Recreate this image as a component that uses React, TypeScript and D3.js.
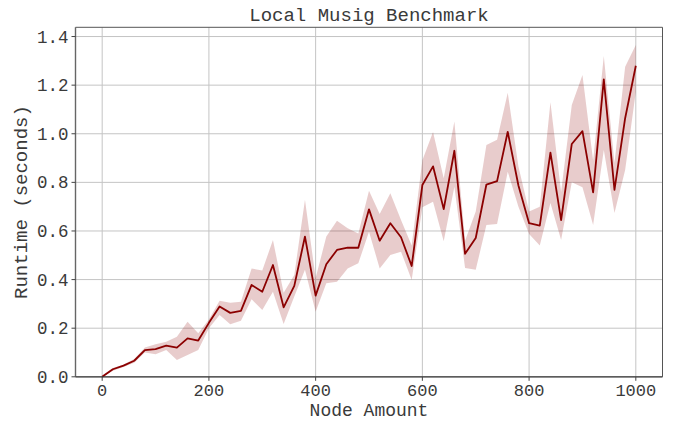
import React from "react";
import * as d3 from "d3";

const nodeAmounts: number[] = [
  0, 20, 40, 60, 80, 100, 120, 140, 160, 180, 200, 220, 240, 260, 280, 300, 320, 340, 360, 380,
  400, 420, 440, 460, 480, 500, 520, 540, 560, 580, 600, 620, 640, 660, 680, 700, 720, 740, 760, 780,
  800, 820, 840, 860, 880, 900, 920, 940, 960, 980, 1000,
];

const meanRuntime: number[] = [
  0.0, 0.031, 0.046, 0.066, 0.11, 0.114, 0.128, 0.12, 0.158, 0.149, 0.222, 0.289, 0.263, 0.271, 0.378, 0.35, 0.46, 0.286, 0.374, 0.577,
  0.334, 0.463, 0.522, 0.531, 0.531, 0.689, 0.56, 0.632, 0.574, 0.456, 0.789, 0.866, 0.69, 0.93, 0.506, 0.571, 0.791, 0.805, 1.008, 0.787,
  0.632, 0.622, 0.922, 0.645, 0.958, 1.011, 0.759, 1.224, 0.769, 1.064, 1.28,
];

const upperRuntime: number[] = [
  0.005, 0.036, 0.051, 0.073, 0.121, 0.134, 0.144, 0.165, 0.227, 0.179, 0.236, 0.313, 0.305, 0.309, 0.446, 0.437, 0.563, 0.346, 0.419, 0.728,
  0.406, 0.577, 0.642, 0.611, 0.59, 0.766, 0.67, 0.755, 0.645, 0.54, 0.891, 1.007, 0.817, 1.05, 0.56, 0.68, 0.954, 0.975, 1.169, 0.865,
  0.68, 0.7, 1.13, 0.76, 1.118, 1.242, 0.89, 1.32, 0.88, 1.276, 1.365,
];

const lowerRuntime: number[] = [
  0.0, 0.025, 0.04, 0.058, 0.1, 0.093, 0.11, 0.069, 0.09, 0.11, 0.2, 0.254, 0.216, 0.231, 0.319, 0.275, 0.35, 0.217, 0.33, 0.44,
  0.268, 0.385, 0.391, 0.446, 0.467, 0.597, 0.446, 0.501, 0.515, 0.398, 0.698, 0.72, 0.558, 0.782, 0.448, 0.44, 0.625, 0.629, 0.844, 0.7,
  0.588, 0.54, 0.715, 0.563, 0.8, 0.78, 0.625, 0.933, 0.674, 0.851, 1.173,
];

const xTicks: number[] = [0, 200, 400, 600, 800, 1000];
const yTicks: number[] = [0, 0.2, 0.4, 0.6, 0.8, 1.0, 1.2, 1.4];

const W = 673;
const H = 421;
const LEFT = 75.5;
const RIGHT = 662.5;
const TOP = 27.3;
const BOTTOM = 376.8;
const FONT = "'Liberation Mono', 'DejaVu Sans Mono', monospace";

export default function App() {
  const x = d3.scaleLinear().domain([-50, 1050]).range([LEFT, RIGHT]);
  const y = d3.scaleLinear().domain([0, 1.438]).range([BOTTOM, TOP]);

  const idx = nodeAmounts.map((_, i) => i);
  const area = d3
    .area<number>()
    .x((i) => x(nodeAmounts[i]))
    .y0((i) => y(lowerRuntime[i]))
    .y1((i) => y(upperRuntime[i]));
  const line = d3
    .line<number>()
    .x((i) => x(nodeAmounts[i]))
    .y((i) => y(meanRuntime[i]));

  const textColor = "#3a3a3a";

  return (
    <svg
      width={W}
      height={H}
      style={{ position: "absolute", left: 0, top: 0, background: "#fff" }}
    >
      <rect x={0} y={0} width={W} height={H} fill="#fff" />
      {xTicks.map((t) => (
        <line key={"gx" + t} x1={x(t)} x2={x(t)} y1={TOP} y2={BOTTOM} stroke="#c4c4c4" strokeWidth={1} />
      ))}
      {yTicks.map((t) => (
        <line key={"gy" + t} x1={LEFT} x2={RIGHT} y1={y(t)} y2={y(t)} stroke="#c4c4c4" strokeWidth={1} />
      ))}
      <path d={area(idx) || ""} fill="#8b0000" fillOpacity={0.2} stroke="none" />
      <path d={line(idx) || ""} fill="none" stroke="#8b0000" strokeWidth={1.8} strokeLinejoin="round" />
      <line x1={LEFT} x2={RIGHT} y1={TOP} y2={TOP} stroke="#555" strokeWidth={1} />
      <line x1={RIGHT} x2={RIGHT} y1={TOP} y2={BOTTOM} stroke="#555" strokeWidth={1} />
      <line x1={LEFT} x2={LEFT} y1={TOP} y2={BOTTOM} stroke="#666" strokeWidth={1.4} />
      <line x1={LEFT} x2={RIGHT} y1={BOTTOM} y2={BOTTOM} stroke="#333" strokeWidth={1.2} />
      {xTicks.map((t) => (
        <g key={"tx" + t}>
          <line x1={x(t)} x2={x(t)} y1={BOTTOM} y2={BOTTOM + 4} stroke="#444" strokeWidth={1} />
          <text
            x={x(t)}
            y={BOTTOM + 19.5}
            textAnchor="middle"
            fontFamily={FONT}
            fontSize={17}
            fill={textColor}
          >
            {String(t)}
          </text>
        </g>
      ))}
      {yTicks.map((t) => (
        <g key={"ty" + t}>
          <line x1={LEFT - 4} x2={LEFT} y1={y(t)} y2={y(t)} stroke="#444" strokeWidth={1} />
          <text
            x={LEFT - 7}
            y={y(t)}
            dy="0.35em"
            textAnchor="end"
            fontFamily={FONT}
            fontSize={17.5}
            fill={textColor}
          >
            {d3.format(".1f")(t)}
          </text>
        </g>
      ))}
      <text
        x={(LEFT + RIGHT) / 2}
        y={21}
        textAnchor="middle"
        fontFamily={FONT}
        fontSize={19}
        fill={textColor}
      >
        Local Musig Benchmark
      </text>
      <text
        x={(LEFT + RIGHT) / 2}
        y={415.5}
        textAnchor="middle"
        fontFamily={FONT}
        fontSize={18}
        fill={textColor}
      >
        Node Amount
      </text>
      <text
        transform={`translate(27, ${(TOP + BOTTOM) / 2}) rotate(-90)`}
        textAnchor="middle"
        fontFamily={FONT}
        fontSize={19}
        fill={textColor}
      >
        Runtime (seconds)
      </text>
    </svg>
  );
}
